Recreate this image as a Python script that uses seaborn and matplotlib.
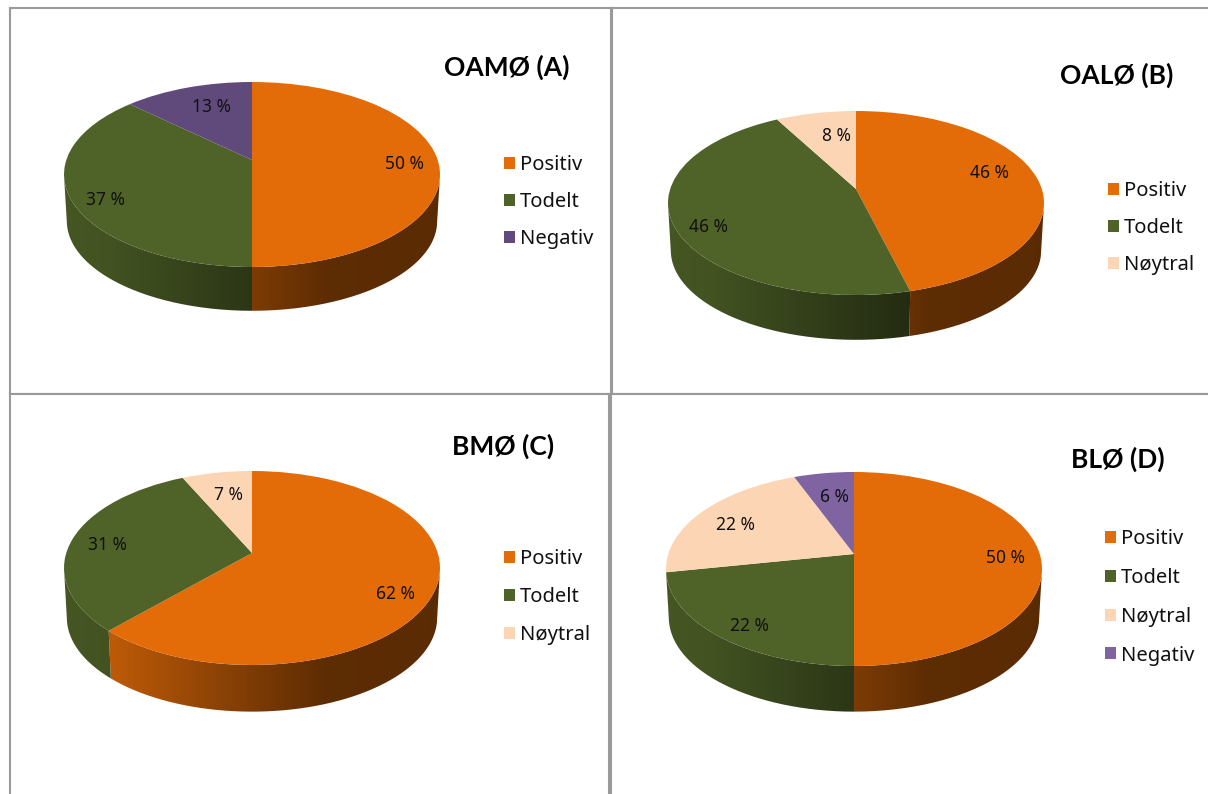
import numpy as np
import matplotlib
matplotlib.use("Agg")
import matplotlib.pyplot as plt
import seaborn as sns
from matplotlib.path import Path
from matplotlib.patches import PathPatch
from matplotlib.transforms import Transform

# data
titles = ["OAMØ (A)", "OALØ (B)", "BMØ (C)", "BLØ (D)"]
labels_a = ["Positiv", "Todelt", "Negativ"]
labels_b = ["Positiv", "Todelt", "Nøytral"]
labels_c = ["Positiv", "Todelt", "Nøytral"]
labels_d = ["Positiv", "Todelt", "Nøytral", "Negativ"]
values_a = [50, 37, 13]
values_b = [46, 46, 8]
values_c = [62, 31, 7]
values_d = [50, 22, 22, 6]

ORANGE, GREEN, PEACH = "#E36C09", "#4F6228", "#FCD5B5"
colors_a = sns.color_palette([ORANGE, GREEN, "#604A7B"])
colors_b = sns.color_palette([ORANGE, GREEN, PEACH])
colors_c = sns.color_palette([ORANGE, GREEN, PEACH])
colors_d = sns.color_palette([ORANGE, GREEN, PEACH, "#8064A2"])

# layout in picture pixels
W, H = 1208, 794
panels = [
    dict(box=(10, 8, 611, 394), apex=(252, 160), up=78, low=107, depth=47, title=(507, 67),
         leg=(504, 155), space=37, vals=values_a, labs=labels_a, cols=colors_a,
         nudge=[(4, 4), (-3, 10), (12, 6)]),
    dict(box=(612, 8, 1230, 394), apex=(856, 189), up=78, low=106, depth=48, title=(1117, 75),
         leg=(1108, 181), space=37, vals=values_b, labs=labels_b, cols=colors_b,
         nudge=[(-12, -7), (-3, 10), (14, 9)]),
    dict(box=(10, 394, 609, 820), apex=(252, 553), up=82, low=112, depth=50, title=(503, 446),
         leg=(504, 549), space=38, vals=values_c, labs=labels_c, cols=colors_c,
         nudge=[(-1, 12), (-1, 4), (5, 8)]),
    dict(box=(611, 394, 1230, 820), apex=(854, 554), up=82, low=112, depth=49, title=(1118, 459),
         leg=(1105, 529), space=39, vals=values_d, labs=labels_d, cols=colors_d,
         nudge=[(3, 4), (0, 7), (4, 5), (5, 9)]),
]
RX = 188
side_u = [-1, -0.76, 0, 0.4, 1]
side_f = [0.88, 0.84, 0.55, 0.41, 0.40]


class Tilt(Transform):
    """unit circle -> tilted pie top, in picture pixels"""
    input_dims = output_dims = 2

    def __init__(self, apex, up, low):
        super().__init__()
        self.apex = apex
        self.k = (up - low) / (up + low)
        self.a = up * (1 - self.k)
        self.b = RX * np.sqrt(1 - self.k ** 2)

    def transform_non_affine(self, xy):
        xy = np.asarray(xy, dtype=float)
        w = 1 - self.k * xy[:, 1]
        return np.column_stack([self.apex[0] + xy[:, 0] * self.b / w,
                                self.apex[1] - xy[:, 1] * self.a / w])


sns.set_theme(style="white")
plt.rcParams["font.family"] = ["Noto Sans", "DejaVu Sans"]

fig = plt.figure(figsize=(W / 100, H / 100), dpi=100, facecolor="white")

for i, p in enumerate(panels):
    x0, y0, x1, y1 = p["box"]
    ax = fig.add_axes([x0 / W, 1 - y1 / H, (x1 - x0) / W, (y1 - y0) / H])
    wedges, _ = ax.pie(p["vals"], colors=p["cols"], startangle=90, counterclock=False,
                       wedgeprops={"linewidth": 0})
    tilt = Tilt(p["apex"], p["up"], p["low"])
    for wedge in wedges:
        wedge.set_transform(tilt + ax.transData)
        wedge.set_zorder(3)

    # side wall of each slice
    cx, cy = p["apex"]
    grad_x = np.linspace(cx - RX, cx + RX, 400)
    f = np.interp((grad_x - cx) / RX, side_u, side_f)[None, :, None]
    for wedge, col in zip(wedges, p["cols"]):
        th = np.radians(np.linspace(wedge.theta1, wedge.theta2, 200))
        th = th[np.sin(th) <= tilt.k]
        if len(th) < 2:
            continue
        top = tilt.transform_non_affine(np.column_stack([np.cos(th), np.sin(th)]))
        bot = np.column_stack([cx + (top[:, 0] - cx) * 0.985,
                               cy + (top[:, 1] - cy) * 0.97 + p["depth"]])
        im = ax.imshow(f * np.array(col)[None, None, :], aspect="auto", zorder=2,
                       extent=(cx - RX, cx + RX, cy + 200, cy - 100))
        poly = np.vstack([top, bot[::-1], top[:1]])
        clip = PathPatch(Path(poly), transform=ax.transData, facecolor="none", edgecolor="none")
        ax.add_patch(clip)
        im.set_clip_path(clip)

    ax.set_xlim(x0, x1)
    ax.set_ylim(y1, y0)
    ax.set_aspect("auto")
    ax.set_frame_on(True)
    for s in ax.spines.values():
        s.set_visible(True)
        s.set_color("#9a9a9a")
        s.set_linewidth(1.5)

    # percent labels
    for wedge, v, (dx, dy) in zip(wedges, p["vals"], p["nudge"]):
        mid = np.radians((wedge.theta1 + wedge.theta2) / 2)
        lx, ly = tilt.transform_non_affine(np.array([[0.8 * np.cos(mid), 0.8 * np.sin(mid)]]))[0]
        ax.text(lx + dx, ly + dy, f"{v} %", ha="center", va="center", fontsize=12.5,
                color="#111111", zorder=5)

    ax.text(*p["title"], titles[i], ha="center", va="center", fontsize=19,
            fontweight="bold", family=["Lato", "DejaVu Sans"], color="black")

    fs = 14.5
    fs_px = fs * 100 / 72
    ax.legend(wedges, p["labs"], loc="upper left", bbox_to_anchor=p["leg"],
              bbox_transform=ax.transData, frameon=False, fontsize=fs, borderpad=0,
              borderaxespad=0, handlelength=11 / fs_px, handleheight=11 / fs_px,
              handletextpad=5 / fs_px, labelspacing=(p["space"] - fs_px) / fs_px,
              labelcolor="#111111")

fig.savefig("out.png", dpi=100)
